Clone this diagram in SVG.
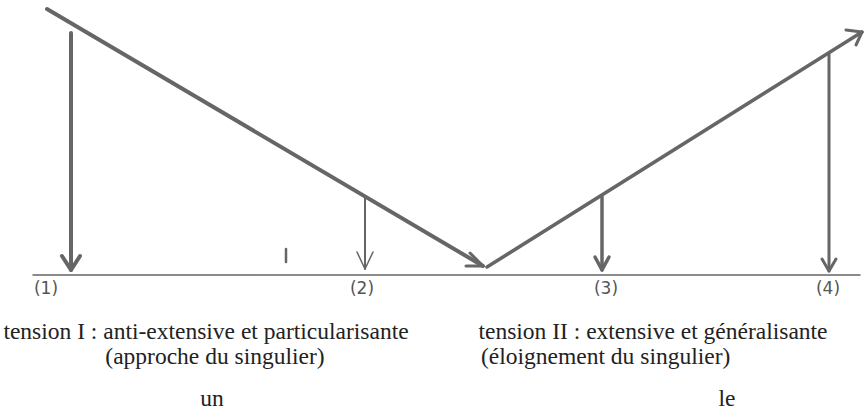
<svg xmlns="http://www.w3.org/2000/svg" width="865" height="419" viewBox="0 0 865 419">
<style>
.ln{stroke:#666;fill:none;stroke-linecap:round;stroke-linejoin:round}
.lab{font-family:"DejaVu Sans",sans-serif;font-size:17px;fill:#555}
.txt{font-family:"Liberation Serif",serif;font-size:23.5px;fill:#222}
</style>
<rect width="865" height="419" fill="#fff"/>
<g id="connectors">
<line class="ln" x1="33" y1="275" x2="860" y2="275" stroke-width="1.5"/>
<line class="ln" x1="47" y1="9" x2="483" y2="266" stroke-width="4"/>
<polyline class="ln" points="470,253 483,266 466,266" stroke-width="3"/>
<line class="ln" x1="487" y1="267" x2="862" y2="32" stroke-width="3.5"/>
<polyline class="ln" points="846,30 862,32 856,45" stroke-width="3"/>
<line class="ln" x1="71" y1="33" x2="71" y2="270" stroke-width="4" stroke-linecap="butt"/>
<polyline class="ln" points="62,256 71,270 80,256" stroke-width="4"/>
<line class="ln" x1="365" y1="196" x2="365" y2="269" stroke-width="2"/>
<polyline class="ln" points="357,252 365,269 373,252" stroke-width="1.5"/>
<line class="ln" x1="602" y1="196" x2="602" y2="270" stroke-width="3.5" stroke-linecap="butt"/>
<polyline class="ln" points="595,257 602,270 609,257" stroke-width="3.5"/>
<line class="ln" x1="829" y1="53" x2="829" y2="271" stroke-width="3" stroke-linecap="butt"/>
<polyline class="ln" points="822,259 829,271 836,259" stroke-width="3"/>
<line class="ln" x1="286" y1="249" x2="286" y2="262" stroke-width="2.5" stroke-linecap="butt"/>
</g>
<g id="n1"><text class="lab" x="46" y="294" text-anchor="middle">(1)</text></g>
<g id="n2"><text class="lab" x="362" y="294" text-anchor="middle">(2)</text></g>
<g id="n3"><text class="lab" x="606" y="294" text-anchor="middle">(3)</text></g>
<g id="n4"><text class="lab" x="828" y="294" text-anchor="middle">(4)</text></g>
<g id="tension1">
<text class="txt" x="206" y="339" text-anchor="middle">tension I : anti-extensive et particularisante</text>
<text class="txt" x="215" y="364" text-anchor="middle">(approche du singulier)</text>
<text class="txt" x="212" y="406" text-anchor="middle">un</text>
</g>
<g id="tension2">
<text class="txt" x="653" y="339" text-anchor="middle">tension II : extensive et généralisante</text>
<text class="txt" x="481" y="364">(éloignement du singulier)</text>
<text class="txt" x="727" y="406" text-anchor="middle">le</text>
</g>
</svg>
